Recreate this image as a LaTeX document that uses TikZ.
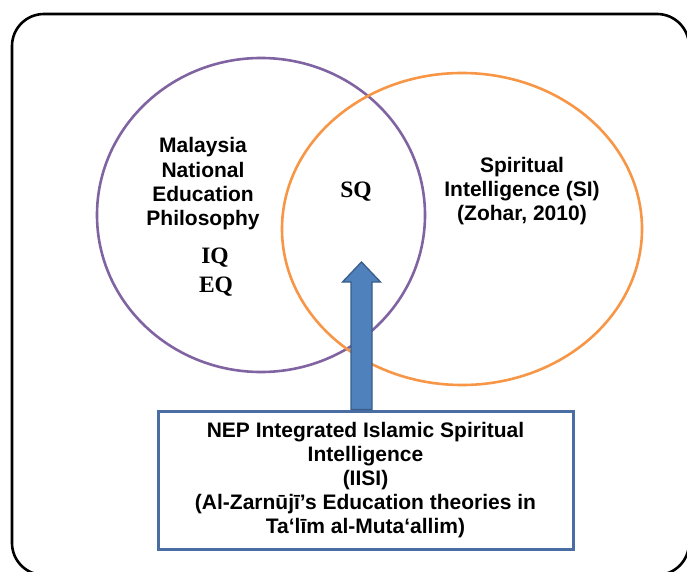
\documentclass[tikz,border=0pt]{standalone}
\usepackage{fontspec}
\setmainfont{Liberation Sans}
\newfontfamily\qfont{Liberation Serif}
\usepackage{tikz}
\usetikzlibrary{calc}
\usepackage{xcolor}
\definecolor{ColPurple}{RGB}{128,100,162}
\definecolor{ColOrange}{RGB}{247,150,70}
\definecolor{ColBlue}{RGB}{79,129,189}
\definecolor{ColBlueDark}{RGB}{56,93,138}
\definecolor{ColFrame}{RGB}{74,110,163}
\tikzstyle{SetText}=[align=center,inner sep=0pt,font=\bfseries\fontsize{21}{24.3}\selectfont]
\tikzstyle{QText}=[inner sep=0pt,font=\qfont\bfseries\fontsize{23.5}{26}\selectfont]
\tikzstyle{SetCircle}=[line width=2.6pt]
\tikzstyle{BoxIISI}=[draw=ColFrame,fill=white,line width=3pt,minimum width=415pt,
minimum height=138pt,align=center,inner sep=0pt,font=\bfseries\fontsize{21}{24}\selectfont]
\tikzstyle{BlockArrow}=[draw=ColBlueDark,fill=ColBlue,line width=1.3pt,line join=miter]

\begin{document}
\begin{tikzpicture}[x=1pt,y=-1pt]
        \useasboundingbox (0,0) rectangle (687,572);
        \draw[line width=2.6pt,rounded corners=32pt] (12,14) rectangle (689,575);
        \draw[SetCircle,ColPurple] (261,215) ellipse [x radius=164pt,y radius=157pt];
        \draw[SetCircle,ColOrange] (462,229) ellipse [x radius=180pt,y radius=156pt];
        \node[SetText](nep)at(203,184){Malaysia\\National\\Education\\Philosophy};
        \node[QText](iq)at(215,258){IQ};
        \node[QText](eq)at(216,287){EQ};
        \node[QText](sq)at(356,192){SQ};
        \node[SetText](si)at(522,191){Spiritual\\Intelligence (SI)\\(Zohar, 2010)};
        \node[BoxIISI](iisi)at(365.5,480){NEP Integrated Islamic Spiritual\\Intelligence\\(IISI)\\(Al-Zarnūjī’s Education theories in\\Ta‘līm al-Muta‘allim)};
        \coordinate (sqtip) at (361.5,262);
        \draw[BlockArrow] ($(iisi.north -| sqtip)+(-10.5,0)$) -- ($(sqtip)+(-10.5,20)$)
            -- ($(sqtip)+(-19,20)$) -- (sqtip) -- ($(sqtip)+(19,20)$)
            -- ($(sqtip)+(10.5,20)$) -- ($(iisi.north -| sqtip)+(10.5,0)$) -- cycle;
    \end{tikzpicture}
\end{document}
